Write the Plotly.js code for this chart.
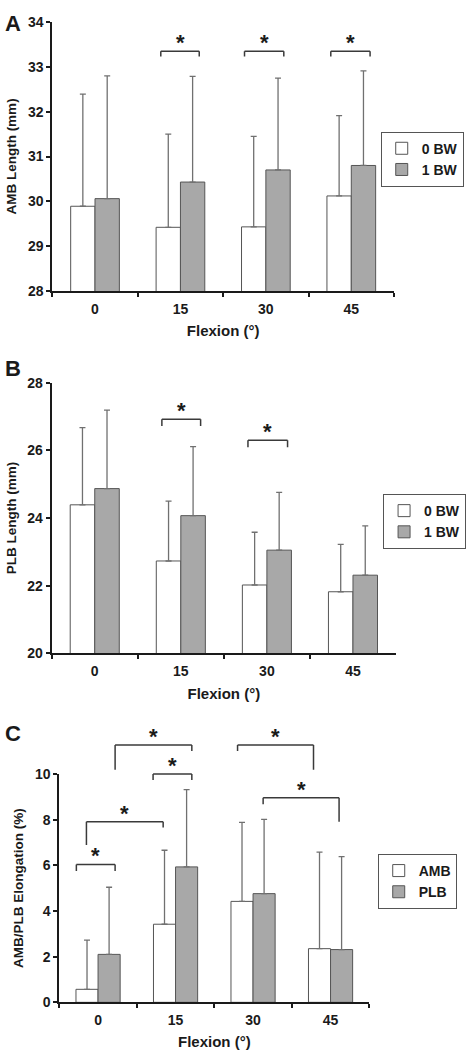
<!DOCTYPE html>
<html><head><meta charset="utf-8">
<script src="https://cdn.plot.ly/plotly-3.0.1.min.js"></script>
<style>html,body{margin:0;padding:0;background:#fff}#chart{width:467px;height:1050px}</style>
</head><body><div id="chart"></div>
<script>
// ---- data ----
const flexion = ['0', '15', '30', '45'];

// Panel A: AMB length (mm), mean and SD
const ambLen0BW   = [29.89, 29.42, 29.43, 30.12];
const ambLen0BWsd = [2.50, 2.08, 2.02, 1.79];
const ambLen1BW   = [30.06, 30.43, 30.70, 30.80];
const ambLen1BWsd = [2.74, 2.36, 2.05, 2.11];

// Panel B: PLB length (mm)
const plbLen0BW   = [24.39, 22.73, 22.02, 21.82];
const plbLen0BWsd = [2.28, 1.77, 1.56, 1.40];
const plbLen1BW   = [24.87, 24.07, 23.05, 22.31];
const plbLen1BWsd = [2.32, 2.04, 1.71, 1.46];

// Panel C: elongation (%)
const ambElong   = [0.57, 3.42, 4.42, 2.35];
const ambElongSd = [2.15, 3.24, 3.46, 4.23];
const plbElong   = [2.10, 5.93, 4.76, 2.31];
const plbElongSd = [2.94, 3.38, 3.25, 4.07];

// significance brackets (x in category-index units, y in data units)
const sigA_x0 = [0.77, 1.75, 2.76];
const sigA_x1 = [1.22, 2.21, 3.22];
const sigA_y  = [33.35, 33.35, 33.35];
const sigA_yl = [33.23, 33.23, 33.23];
const sigA_yr = [33.23, 33.23, 33.23];

const sigB_x0 = [0.78, 1.78];
const sigB_x1 = [1.23, 2.24];
const sigB_y  = [26.92, 26.30];
const sigB_yl = [26.72, 26.09];
const sigB_yr = [26.72, 26.09];

const sigC_x0 = [-0.28, -0.15, 0.71, 0.22, 1.80, 2.13];
const sigC_x1 = [0.22, 0.84, 1.21, 1.21, 2.78, 3.11];
const sigC_y  = [6.04, 7.91, 10.00, 11.27, 11.27, 8.96];
const sigC_yl = [5.75, 6.89, 9.74, 10.18, 11.01, 8.67];
const sigC_yr = [5.75, 7.66, 9.74, 11.01, 10.18, 7.91];

const legendA = ['0 BW', '1 BW'];
const legendC = ['AMB', 'PLB'];

// ---- styles ----
const FONT = 'Liberation Sans, Arial, Helvetica, sans-serif';
const INK = '#1a1a1a';
const WHITE_FILL = '#ffffff';
const GRAY_FILL = '#a8a8a8';
const BAR_LINE = '#555555';
const ERR_COLOR = '#707070';

function barTrace(name, y, sd, fill, xa, ya, leg) {
  return {
    type: 'bar', name: name, x: flexion, y: y, xaxis: xa, yaxis: ya, legend: leg,
    marker: {color: fill, line: {color: BAR_LINE, width: 1}},
    error_y: {type: 'data', array: sd, arrayminus: sd.map(() => 0), symmetric: false,
              color: ERR_COLOR, thickness: 1.3, width: 3},
    hoverinfo: 'skip'
  };
}

const traces = [
  barTrace(legendA[0], ambLen0BW, ambLen0BWsd, WHITE_FILL, 'x', 'y', 'legend'),
  barTrace(legendA[1], ambLen1BW, ambLen1BWsd, GRAY_FILL, 'x', 'y', 'legend'),
  barTrace(legendA[0], plbLen0BW, plbLen0BWsd, WHITE_FILL, 'x2', 'y2', 'legend2'),
  barTrace(legendA[1], plbLen1BW, plbLen1BWsd, GRAY_FILL, 'x2', 'y2', 'legend2'),
  barTrace(legendC[0], ambElong, ambElongSd, WHITE_FILL, 'x3', 'y3', 'legend3'),
  barTrace(legendC[1], plbElong, plbElongSd, GRAY_FILL, 'x3', 'y3', 'legend3')
];

function xAxis(domain, anchor) {
  return {
    domain: domain, anchor: anchor, type: 'category',
    showline: true, linecolor: INK, linewidth: 2,
    ticks: 'outside', tickson: 'boundaries', ticklen: 4, tickwidth: 2, tickcolor: INK,
    showgrid: false, zeroline: false, fixedrange: true,
    tickfont: {size: 14, color: INK}, ticklabelstandoff: 4,
    title: {text: 'Flexion (°)', font: {size: 15, color: INK}, standoff: 10}
  };
}
function yAxis(domain, anchor, range, dtick, title) {
  return {
    domain: domain, anchor: anchor, range: range, dtick: dtick, tick0: range[0],
    showline: true, linecolor: INK, linewidth: 2,
    ticks: 'outside', ticklen: 4, tickwidth: 2, tickcolor: INK,
    showgrid: false, zeroline: false, fixedrange: true,
    tickfont: {size: 14, color: INK},
    title: {text: title, font: {size: 13.5, color: INK}, standoff: 8}
  };
}

const rangeA = [28, 34], rangeB = [20, 28], rangeC = [0, 10];

const shapes = [];
const annotations = [];
function addBrackets(xa, ya, range, x0s, x1s, ys, yls, yrs) {
  const toDom = v => (v - range[0]) / (range[1] - range[0]);
  const line = {color: '#3a3a3a', width: 1.5};
  for (let i = 0; i < x0s.length; i++) {
    const common = {type: 'line', xref: xa, yref: ya + ' domain', line: line, layer: 'above'};
    shapes.push(Object.assign({}, common, {x0: x0s[i], x1: x0s[i], y0: toDom(yls[i]), y1: toDom(ys[i])}));
    shapes.push(Object.assign({}, common, {x0: x0s[i], x1: x1s[i], y0: toDom(ys[i]), y1: toDom(ys[i])}));
    shapes.push(Object.assign({}, common, {x0: x1s[i], x1: x1s[i], y0: toDom(ys[i]), y1: toDom(yrs[i])}));
    annotations.push({
      text: '*', showarrow: false, xref: xa, yref: ya + ' domain',
      x: (x0s[i] + x1s[i]) / 2, y: toDom(ys[i]), yanchor: 'bottom', yshift: -6,
      font: {size: 22, color: INK}
    });
  }
}
addBrackets('x', 'y', rangeA, sigA_x0, sigA_x1, sigA_y, sigA_yl, sigA_yr);
addBrackets('x2', 'y2', rangeB, sigB_x0, sigB_x1, sigB_y, sigB_yl, sigB_yr);
addBrackets('x3', 'y3', rangeC, sigC_x0, sigC_x1, sigC_y, sigC_yl, sigC_yr);

const panelLabels = [['A', 0.978], ['B', 0.649], ['C', 0.301]];
panelLabels.forEach(p => annotations.push({
  text: p[0], showarrow: false, xref: 'paper', yref: 'paper', x: 0.006, y: p[1],
  xanchor: 'left', yanchor: 'middle', font: {size: 22, color: INK}
}));

function legendBox(xr, ytop) {
  return {x: xr, y: ytop, xanchor: 'right', yanchor: 'top', bgcolor: '#ffffff',
          bordercolor: '#555555', borderwidth: 1, font: {size: 14, color: INK},
          traceorder: 'normal', itemwidth: 30, tracegroupgap: 0};
}

const layout = {
  width: 467, height: 1050,
  margin: {l: 0, r: 0, t: 0, b: 0},
  paper_bgcolor: '#ffffff', plot_bgcolor: '#ffffff',
  font: {family: FONT, size: 13, color: INK, weight: 'bold'},
  barmode: 'group', bargap: 0.43, bargroupgap: 0,
  showlegend: true,
  xaxis:  xAxis([0.112, 0.8437], 'y'),
  yaxis:  yAxis([0.7229, 0.9790], 'x', rangeA, 1, 'AMB Length (mm)'),
  xaxis2: xAxis([0.1107, 0.848], 'y2'),
  yaxis2: yAxis([0.3778, 0.6355], 'x2', rangeB, 2, 'PLB Length (mm)'),
  xaxis3: xAxis([0.127, 0.7908], 'y3'),
  yaxis3: yAxis([0.0454, 0.2629], 'x3', rangeC, 2, 'AMB/PLB Elongation (%)'),
  legend:  legendBox(0.993, 0.8746),
  legend2: legendBox(0.998, 0.5295),
  legend3: legendBox(0.978, 0.1867),
  shapes: shapes,
  annotations: annotations
};

Plotly.newPlot('chart', traces, layout, {staticPlot: true, displayModeBar: false});
</script>
</body></html>
